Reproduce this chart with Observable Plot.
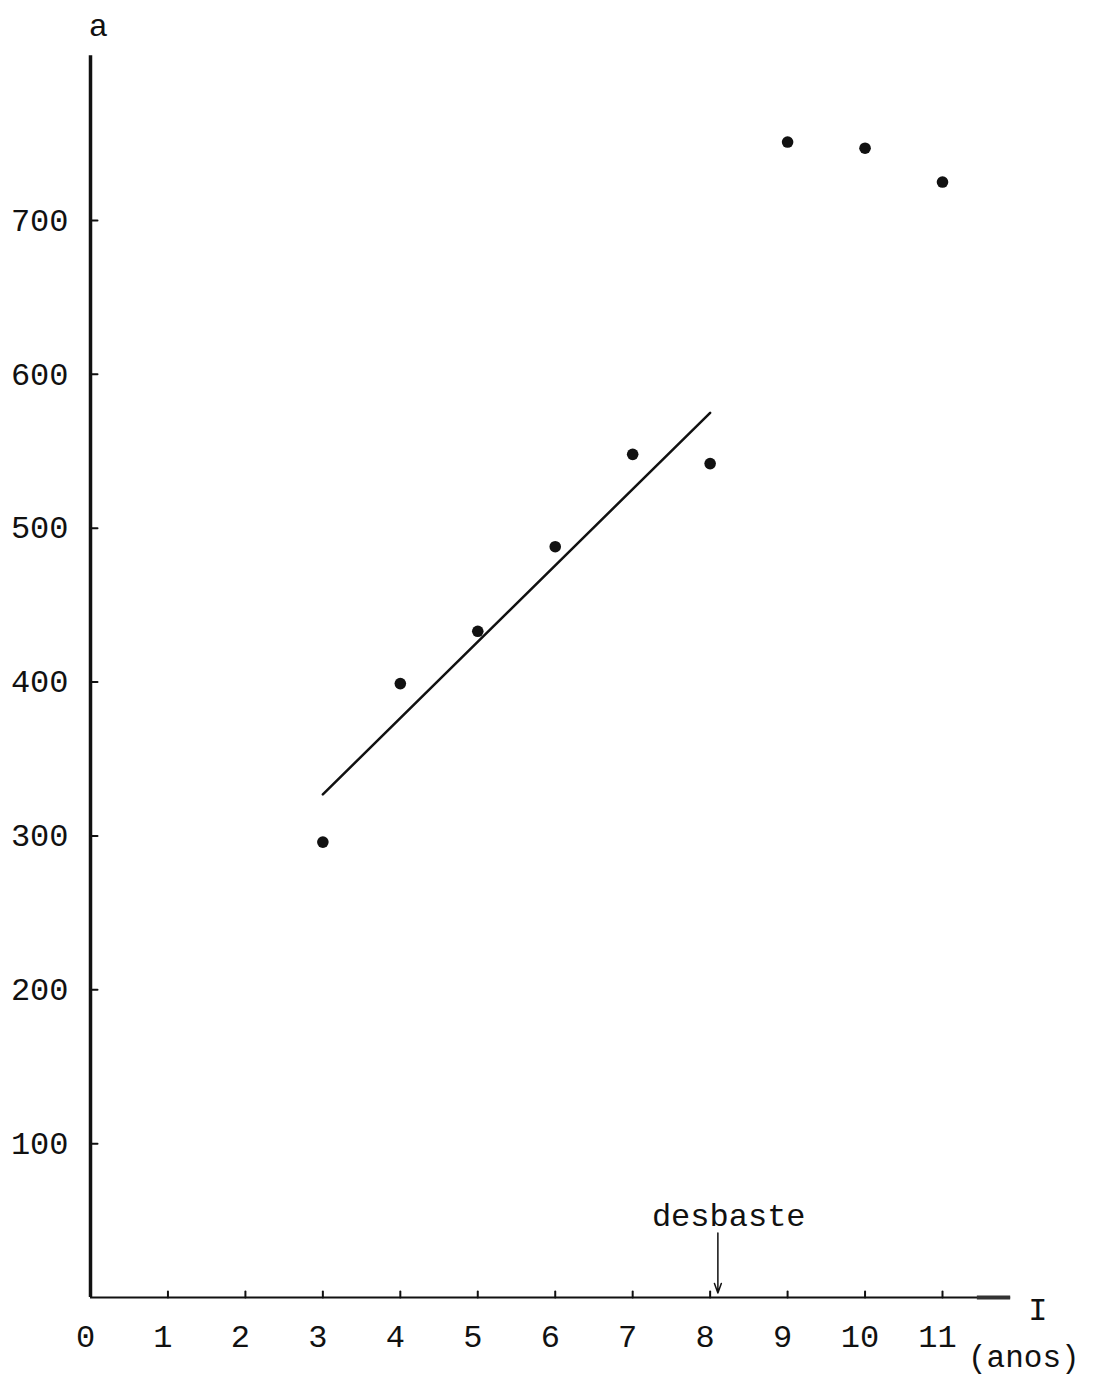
<!DOCTYPE html>
<html>
<head>
<meta charset="utf-8">
<script src="https://cdn.jsdelivr.net/npm/d3@7"></script>
<script src="https://cdn.jsdelivr.net/npm/@observablehq/plot@0.6"></script>
<style>
  html, body { margin: 0; padding: 0; background: #fff; }
  #chart { width: 1096px; height: 1378px; }
</style>
</head>
<body>
<div id="chart"></div>
<script>
// ---- data ----
const ages = [3, 4, 5, 6, 7, 8, 9, 10, 11];
const values = [296, 399, 433, 488, 548, 542, 751, 747, 725];
const fitX = [3, 8];
const fitY = [327, 575];
const xTicks = [0, 1, 2, 3, 4, 5, 6, 7, 8, 9, 10, 11];
const xTickMarks = [1, 2, 3, 4, 5, 6, 7, 8, 9, 10, 11];
const yTicks = [100, 200, 300, 400, 500, 600, 700];
const yAxisTop = 807;
const xAxisEnd = 11.88;
const thinningAge = 8.1;
const thinningLabel = "desbaste";
const yLabel = "a";
const xLabel = "I";
const xUnit = "(anos)";

const points = ages.map((a, i) => ({x: a, y: values[i]}));
const fit = fitX.map((x, i) => ({x, y: fitY[i]}));

const font = "Liberation Mono, Courier New, monospace";
const tickShape = {draw(context, l) { context.moveTo(0, 0); context.lineTo(0, -l); }};

const chart = Plot.plot({
  width: 1096,
  height: 1378,
  marginLeft: 90,
  marginRight: 154,
  marginTop: 220,
  marginBottom: 81,
  x: {domain: [0, 11], axis: null},
  y: {domain: [0, 700], axis: null},
  style: {fontFamily: font, background: "#fff", color: "#111"},
  marks: [
    // axes lines
    Plot.ruleX([0], {y1: 0, y2: yAxisTop, stroke: "#111", strokeWidth: 3.5}),
    Plot.ruleY([0], {x1: 0, x2: xAxisEnd, stroke: "#111", strokeWidth: 2}),
    Plot.ruleY([0], {x1: 11.45, x2: xAxisEnd, stroke: "#333", strokeWidth: 4}),
    // ticks
    Plot.vector(yTicks, {x: 0, y: d => d, length: 7, rotate: 90, anchor: "start", shape: tickShape, stroke: "#111", strokeWidth: 2}),
    Plot.vector(xTickMarks, {x: d => d, y: 0, length: 6, rotate: 0, anchor: "start", shape: tickShape, stroke: "#111", strokeWidth: 2}),
    // tick labels
    Plot.text(yTicks, {x: 0, y: d => d, text: d => String(d), dx: -22, textAnchor: "end", lineAnchor: "middle", fontSize: 32, fill: "#111"}),
    Plot.text(xTicks, {x: d => d, y: 0, text: d => String(d), dx: -5, dy: 39, lineAnchor: "middle", fontSize: 32, fill: "#111"}),
    // axis titles
    Plot.text([yLabel], {x: 0.1, y: 826.7, text: d => d, lineAnchor: "middle", fontSize: 32, fill: "#111"}),
    Plot.text([xLabel], {x: 12.23, y: -7.8, text: d => d, lineAnchor: "middle", fontSize: 32, fill: "#111"}),
    Plot.text([xUnit], {x: 12.05, y: -39, text: d => d, lineAnchor: "middle", fontSize: 31, fill: "#111"}),
    // thinning annotation
    Plot.text([thinningLabel], {x: 8.24, y: 53.3, text: d => d, lineAnchor: "middle", fontSize: 32, fill: "#111"}),
    Plot.arrow([thinningAge], {x1: d => d, x2: d => d, y1: 42, y2: 3, stroke: "#111", strokeWidth: 1.5, headLength: 10, headAngle: 40}),
    // fit line
    Plot.line(fit, {x: "x", y: "y", stroke: "#111", strokeWidth: 2.5}),
    // points
    Plot.dot(points, {x: "x", y: "y", r: 5.8, fill: "#111", stroke: "none"})
  ]
});
document.getElementById("chart").appendChild(chart);
</script>
</body>
</html>
